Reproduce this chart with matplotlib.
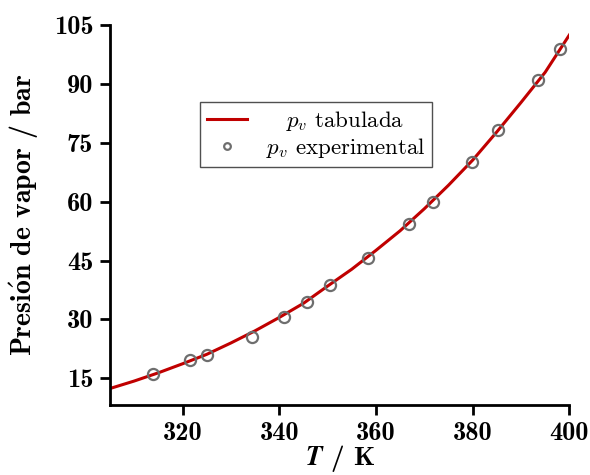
import matplotlib
matplotlib.use("Agg")
import matplotlib.pyplot as plt

# Tabulated vapour pressure (bar) every 5 K
T_tab = [305, 310, 315, 320, 325, 330, 335, 340, 345, 350,
         355, 360, 365, 370, 375, 380, 385, 390, 395, 400]
p_tab = [12.4, 14.3, 16.4, 18.7, 21.1, 24.0, 27.1, 30.5, 34.1, 38.5,
         42.8, 47.6, 52.6, 58.2, 64.2, 70.6, 77.8, 85.3, 93.0, 102.5]

# Experimental measurements
T_exp = [313.9, 321.6, 325.0, 334.3, 341.0, 345.8, 350.6, 358.3,
         366.9, 371.7, 379.8, 385.3, 393.5, 398.1]
p_exp = [16.0, 19.6, 20.9, 25.5, 30.7, 34.4, 38.9, 45.7,
         54.2, 60.05, 70.2, 78.4, 91.1, 98.9]

x_ticks = [320, 340, 360, 380, 400]
y_ticks = [15, 30, 45, 60, 75, 90, 105]

plt.rcParams["mathtext.fontset"] = "cm"
plt.rcParams["axes.unicode_minus"] = False
plt.rcParams["axes.formatter.use_mathtext"] = False

bold_family = ["cmb10", "DejaVu Serif"]
roman_family = ["cmr10", "DejaVu Serif"]

fig = plt.figure(figsize=(5.90, 4.75), dpi=100)
ax = fig.add_axes([0.1864, 0.1474, 0.7786, 0.7996])

ax.plot(T_tab, p_tab, color="#c00000", lw=2.2, label=r"$\quad p_v$ tabulada",
        zorder=2)
ax.plot(T_exp, p_exp, ls="none", marker="o", ms=8, mfc="none",
        mec="#6e6e6e", mew=1.6, label=r"$p_v$ experimental", zorder=3)

ax.set_xlim(305, 400)
ax.set_ylim(8.2, 105)
ax.set_xticks(x_ticks)
ax.set_yticks(y_ticks)

for s in ("top", "right"):
    ax.spines[s].set_visible(False)
for s in ("left", "bottom"):
    ax.spines[s].set_linewidth(2.0)

ax.tick_params(axis="both", direction="out", length=7, width=2.0,
               labelsize=19, pad=5)
for lab in ax.get_xticklabels() + ax.get_yticklabels():
    lab.set_family(bold_family)

ax.set_xlabel(r"$\boldsymbol{T}$ / K", family=bold_family, fontsize=19.5,
              labelpad=-1)
ax.set_ylabel(r"Presi$\mathbf{\acute{o}}$n de vapor / bar",
              family=bold_family, fontsize=20, labelpad=10)

leg = ax.legend(loc="center", bbox_to_anchor=(0.449, 0.712), fancybox=False,
                edgecolor="#505050", framealpha=1, handlelength=1.75,
                markerscale=0.6, borderpad=0.3, labelspacing=0.15,
                handletextpad=0.8, prop={"family": roman_family, "size": 16.5})
leg.get_frame().set_linewidth(1.0)

fig.savefig("out.png", dpi=100)
